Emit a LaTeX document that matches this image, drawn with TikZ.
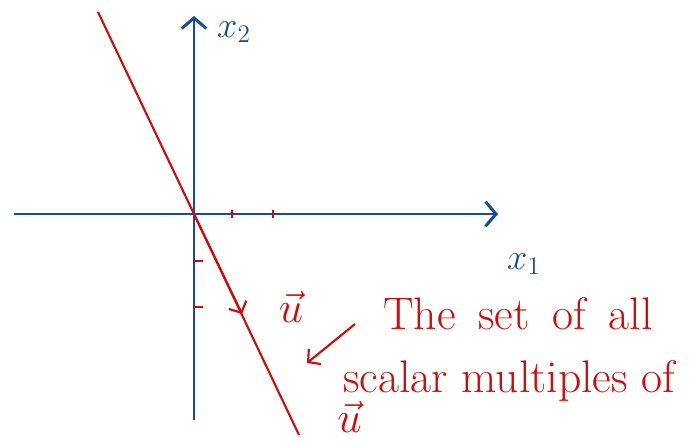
\documentclass[tikz,border=0pt]{standalone}
\usetikzlibrary{arrows.meta}
\definecolor{axisblue}{RGB}{25,75,150}
\definecolor{penred}{RGB}{210,10,10}
\tikzset{
  axisline/.style={axisblue, line width=1.7pt, -{Straight Barb[length=6pt,width=14pt]}},
  penline/.style={penred, line width=1.2pt},
  tickmark/.style={penred, line width=1.1pt},
  handtext/.style={penred, font=\fontsize{26}{30}\selectfont, inner sep=0pt},
}
\begin{document}
\begin{tikzpicture}[x=0.02cm, y=-0.02cm]
  \useasboundingbox (0,0) rectangle (700,442);
  % origin and axis end points
  \coordinate (o) at (194,214);
  \coordinate (xstart) at (14,214);
  \coordinate (xend) at (498,214);
  \coordinate (ystart) at (194,420);
  \coordinate (yend) at (194,16);
  % axes
  \draw[axisline] (xstart) -- (xend);
  \draw[axisline] (ystart) -- (yend);
  % axis labels
  \node[axisblue, font=\fontsize{22}{24}\selectfont] (xtwo) at (234,32) {$x_2$};
  \node[axisblue, font=\fontsize{22}{24}\selectfont] (xone) at (524,264) {$x_1$};
  % ticks
  \foreach \tx in {232,273} \draw[tickmark] (\tx,210) -- (\tx,218);
  \foreach \ty in {261,307} \draw[tickmark] (194,\ty) -- (203,\ty);
  % the line through the origin
  \coordinate (ltop) at (98,12);
  \coordinate (lbot) at (299,435);
  \draw[penline] (ltop) -- (lbot);
  % vector u
  \coordinate (utip) at (242,314);
  \draw[penline, -{Straight Barb[length=5pt,width=11pt]}] (o) -- (utip);
  \node[handtext] (ulabel) at (291,307) {$\vec{u}$};
  % text
  \node[handtext, anchor=base west] (lineone) at (383,330) {The\hspace{0.5em}set\hspace{0.5em}of\hspace{0.5em}all};
  \node[handtext, anchor=base west] (linetwo) at (343,392) {scalar multiples of};
  \node[handtext, anchor=base west] (linethree) at (337,432) {$\vec{u}$};
  % pointer
  \coordinate (ptail) at (355,324);
  \coordinate (phead) at (307,363);
  \draw[penline, -{Straight Barb[length=5pt,width=11pt]}] (ptail) -- (phead);
\end{tikzpicture}
\end{document}
